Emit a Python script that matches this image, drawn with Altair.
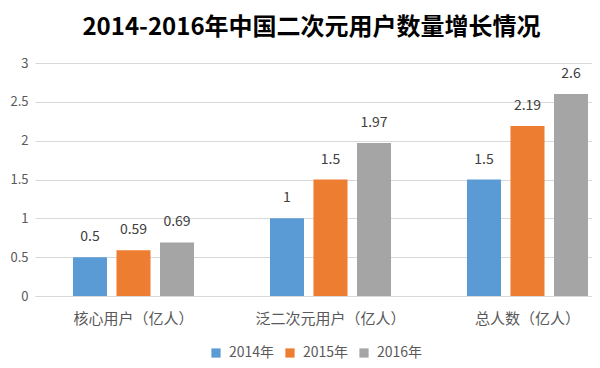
import altair as alt
import pandas as pd

categories = ["核心用户（亿人）", "泛二次元用户（亿人）", "总人数（亿人）"]
years = ["2014年", "2015年", "2016年"]
v2014 = [0.5, 1, 1.5]
v2015 = [0.59, 1.5, 2.19]
v2016 = [0.69, 1.97, 2.6]
colors = ["#5B9BD5", "#ED7D31", "#A5A5A5"]
y_ticks = [0, 0.5, 1, 1.5, 2, 2.5, 3]

rows = []
for yr, vals in zip(years, [v2014, v2015, v2016]):
    for c, v in zip(categories, vals):
        rows.append({"category": c, "year": yr, "value": v})
df = pd.DataFrame(rows)

font = "Noto Sans CJK SC"
W, H = 557, 233

base = alt.Chart(df).encode(
    x=alt.X("category:N", sort=categories,
            scale=alt.Scale(range=[0, 591], paddingInner=0, paddingOuter=0),
            axis=alt.Axis(title=None, labelAngle=0, labelFontSize=15, labelColor="#595959",
                          labelFont=font, ticks=False, domainColor="#d9d9d9", labelPadding=15)),
    xOffset=alt.XOffset("year:N", sort=years,
                        scale=alt.Scale(paddingInner=0.218, paddingOuter=0.873)),
    y=alt.Y("value:Q", scale=alt.Scale(domain=[0, 3]),
            axis=alt.Axis(title=None, values=y_ticks, format="~g", labelFontSize=13,
                          labelColor="#595959", labelFont=font, ticks=False, domain=False,
                          gridColor="#d9d9d9", labelPadding=7)),
)

bars = base.mark_bar().encode(
    color=alt.Color("year:N", sort=years, scale=alt.Scale(domain=years, range=colors),
                    legend=alt.Legend(title=None, orient="none", direction="horizontal",
                                      legendX=174, legendY=50 + H, symbolType="square",
                                      symbolSize=85, symbolStrokeWidth=0, labelFontSize=14,
                                      labelFont=font, labelColor="#595959", columnPadding=8,
                                      labelOffset=6))
)

labels = base.mark_text(dy=-20, baseline="middle", fontSize=14, font=font, color="#404040").encode(
    text=alt.Text("value:Q")
)

chart = (bars + labels).properties(
    width=W, height=H,
    title=alt.TitleParams("2014-2016年中国二次元用户数量增长情况", fontSize=24, font=font,
                          fontWeight="bold", color="#000000", anchor="middle", offset=17,
                          dx=-2),
    autosize=alt.AutoSizeParams(type="none"),
    padding={"left": 27, "top": 55, "right": 0, "bottom": 64},
).configure_view(stroke=None)

chart.save("out.html", embed_options={"renderer": "svg", "actions": False})
